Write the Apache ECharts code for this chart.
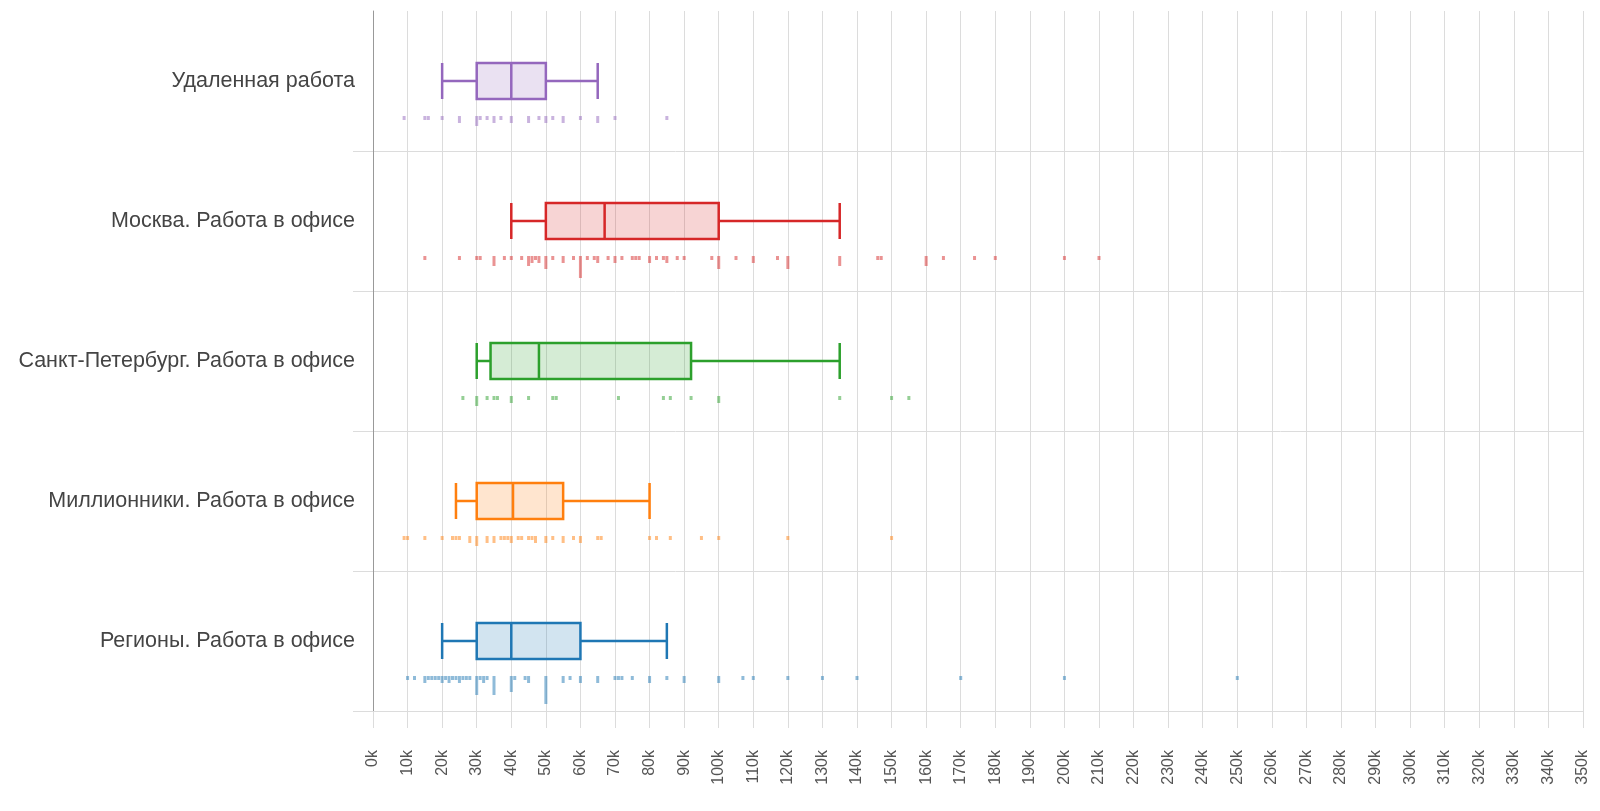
<!DOCTYPE html>
<html>
<head>
<meta charset="utf-8">
<script src="https://cdn.jsdelivr.net/npm/echarts@6/dist/echarts.min.js"></script>
<style>
html,body{margin:0;padding:0;background:#fff;}
#chart{width:1600px;height:811px;}
</style>
</head>
<body>
<div id="chart"></div>
<script>
// ---- data (values in thousands of rubles) ----
const categories = [
  'Удаленная работа',
  'Москва. Работа в офисе',
  'Санкт-Петербург. Работа в офисе',
  'Миллионники. Работа в офисе',
  'Регионы. Работа в офисе'
];
const colors = ['#9467bd', '#d62728', '#2ca02c', '#ff7f0e', '#1f77b4'];

const whiskerLow  = [20, 40, 30, 24, 20];
const q1          = [30, 50, 34, 30, 30];
const median      = [40, 67, 48, 40.5, 40];
const q3          = [50, 100, 92, 55, 60];
const whiskerHigh = [65, 135, 135, 80, 85];

// individual observations: [value (k), count]
const remotePoints = [[9,1],[15,1],[16,1],[20,1],[25,2],[30,3],[31,1],[33,1],[35,2],[37,1],[40,2],[45,2],[48,1],[50,2],[52,1],[55,2],[60,1],[65,2],[70,1],[85,1]];
const moscowPoints = [[15,1],[25,1],[30,1],[31,1],[35,3],[38,1],[40,1],[43,1],[45,3],[46,2],[47,1],[48,2],[50,4],[52,1],[55,2],[58,1],[60,7],[62,1],[64,1],[65,2],[68,1],[70,2],[72,1],[75,1],[76,1],[77,1],[80,2],[82,1],[84,1],[85,2],[88,1],[90,1],[98,1],[100,4],[105,1],[110,2],[117,1],[120,4],[135,3],[146,1],[147,1],[160,3],[165,1],[174,1],[180,1],[200,1],[210,1]];
const spbPoints = [[26,1],[30,3],[33,1],[35,1],[36,1],[40,2],[45,1],[52,1],[53,1],[71,1],[84,1],[86,1],[92,1],[100,2],[135,1],[150,1],[155,1]];
const millionPoints = [[9,1],[10,1],[15,1],[20,1],[23,1],[24,1],[25,1],[28,2],[30,3],[33,2],[35,2],[37,1],[38,1],[39,1],[40,2],[42,1],[43,1],[45,1],[46,1],[47,2],[50,2],[52,1],[55,2],[58,1],[60,2],[65,1],[66,1],[80,1],[82,1],[86,1],[95,1],[100,1],[120,1],[150,1]];
const regionPoints = [[10,1],[12,1],[15,2],[16,1],[17,1],[18,1],[19,1],[20,2],[21,1],[22,2],[23,1],[24,1],[25,2],[26,1],[27,1],[28,1],[30,6],[31,1],[32,2],[33,1],[35,6],[40,5],[41,1],[44,1],[45,2],[50,9],[55,2],[57,1],[60,2],[65,2],[70,1],[71,1],[72,1],[75,1],[80,2],[85,1],[90,2],[100,2],[107,1],[110,1],[120,1],[130,1],[140,1],[170,1],[200,1],[250,1]];
const pointSets = [remotePoints, moscowPoints, spbPoints, millionPoints, regionPoints];

const xMax = 350, xStep = 10;

// ---- chart ----
function rgba(hex, a) {
  const n = parseInt(hex.slice(1), 16);
  return 'rgba(' + ((n >> 16) & 255) + ',' + ((n >> 8) & 255) + ',' + (n & 255) + ',' + a + ')';
}

const boxData = categories.map((c, i) => ({
  value: [whiskerLow[i], q1[i], median[i], q3[i], whiskerHigh[i]],
  itemStyle: { color: rgba(colors[i], 0.2), borderColor: colors[i], borderWidth: 2.5 }
}));

const rugData = [];
pointSets.forEach((pts, i) => pts.forEach(p => rugData.push([p[0], i, p[1]])));

const skipFirst = function (index) { return index !== 0; };

const chart = echarts.init(document.getElementById('chart'), null, { renderer: 'canvas' });
chart.setOption({
  animation: false,
  grid: { left: 373, right: 17, top: 11, bottom: 100 },
  xAxis: {
    type: 'value', min: 0, max: xMax, interval: xStep,
    axisLine: { show: true, lineStyle: { color: '#dcdcdc' } },
    axisTick: { show: true, length: 17, lineStyle: { color: '#dcdcdc' } },
    splitLine: { show: true, lineStyle: { color: '#dcdcdc' } },
    axisLabel: {
      rotate: 90, margin: 39, fontSize: 16, color: '#555',
      fontFamily: 'Liberation Sans, Arial, sans-serif',
      formatter: v => v + 'k'
    }
  },
  yAxis: {
    type: 'category', data: categories, inverse: true,
    axisLine: { show: true, lineStyle: { color: '#999' } },
    axisTick: { show: true, length: 20, interval: skipFirst, lineStyle: { color: '#dcdcdc' } },
    splitLine: { show: true, interval: skipFirst, lineStyle: { color: '#dcdcdc' } },
    axisLabel: {
      margin: 18, fontSize: 21.5, color: '#444',
      fontFamily: 'Liberation Sans, Arial, sans-serif'
    }
  },
  series: [
    {
      type: 'boxplot',
      data: boxData,
      boxWidth: [36, 36]
    },
    {
      type: 'custom',
      data: rugData,
      encode: { x: 0, y: 1 },
      renderItem: function (params, api) {
        const p = api.coord([api.value(0), api.value(1)]);
        const cnt = api.value(2);
        const ci = api.value(1);
        return {
          type: 'rect',
          shape: { x: p[0] - 1.5, y: p[1] + 35, width: 3, height: 3 * cnt + 1 },
          style: { fill: rgba(colors[ci], 0.5) }
        };
      }
    }
  ]
});
</script>
</body>
</html>
